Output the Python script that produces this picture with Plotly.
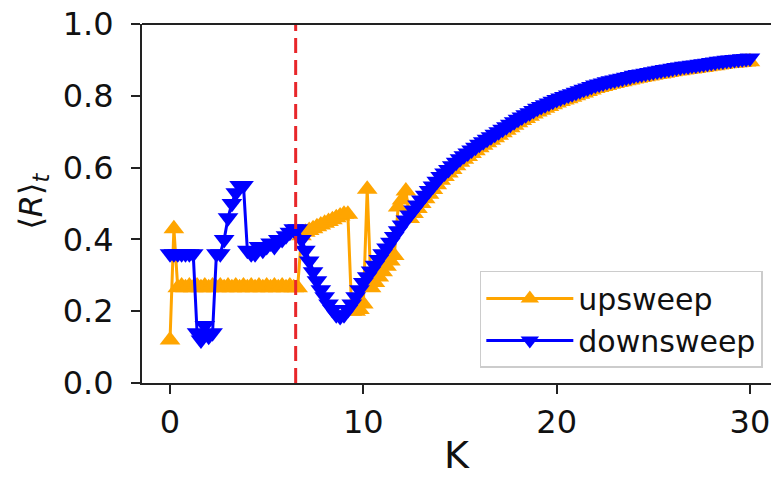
import numpy as np
import plotly.graph_objects as go

# Coupling strength grid (step 0.2 from 0 to 30)
K = np.round(np.linspace(0, 30, 151), 1)

# Time-averaged order parameter, sweeping K upwards
upsweep = [
    0.12, 0.43, 0.265, 0.27, 0.265, 0.27, 0.265, 0.27, 0.265, 0.27,       # 0.0 - 1.8
    0.265, 0.27, 0.265, 0.27, 0.265, 0.27, 0.265, 0.27, 0.265, 0.27,      # 2.0 - 3.8
    0.265, 0.27, 0.265, 0.27, 0.265, 0.27, 0.265, 0.27, 0.265, 0.27,      # 4.0 - 5.8
    0.265, 0.27, 0.265, 0.265, 0.41, 0.42, 0.425, 0.43, 0.435, 0.44,      # 6.0 - 7.8
    0.445, 0.45, 0.455, 0.46, 0.465, 0.47, 0.47, 0.20, 0.20, 0.205,       # 8.0 - 9.8
    0.22, 0.54, 0.265, 0.28, 0.295, 0.31, 0.325, 0.34, 0.355, 0.49,       # 10.0 - 11.8
    0.51, 0.535, 0.458, 0.472, 0.486, 0.50, 0.513, 0.526, 0.539, 0.552,   # 12.0 - 13.8
    0.565, 0.575, 0.585, 0.595, 0.605, 0.615, 0.623, 0.631, 0.639, 0.647, # 14.0 - 15.8
    0.655, 0.662, 0.669, 0.676, 0.683, 0.69, 0.697, 0.704, 0.711, 0.718,  # 16.0 - 17.8
    0.725, 0.731, 0.737, 0.743, 0.749, 0.755, 0.76, 0.765, 0.77, 0.775,   # 18.0 - 19.8
    0.78, 0.784, 0.788, 0.792, 0.796, 0.80, 0.804, 0.808, 0.812, 0.816,   # 20.0 - 21.8
    0.82, 0.823, 0.826, 0.829, 0.832, 0.834, 0.837, 0.839, 0.842, 0.844,  # 22.0 - 23.8
    0.847, 0.849, 0.851, 0.853, 0.855, 0.857, 0.859, 0.861, 0.863, 0.865, # 24.0 - 25.8
    0.867, 0.869, 0.87, 0.872, 0.873, 0.875, 0.876, 0.878, 0.879, 0.881,  # 26.0 - 27.8
    0.883, 0.884, 0.886, 0.887, 0.889, 0.89, 0.891, 0.892, 0.893, 0.894,  # 28.0 - 29.8
    0.895,                                                                  # 30.0
]

# Time-averaged order parameter, sweeping K downwards
downsweep = [
    0.36, 0.36, 0.36, 0.36, 0.36, 0.36, 0.36, 0.14, 0.12, 0.16,           # 0.0 - 1.8
    0.13, 0.14, 0.36, 0.36, 0.40, 0.46, 0.50, 0.53, 0.55, 0.55,           # 2.0 - 3.8
    0.37, 0.36, 0.36, 0.38, 0.37, 0.38, 0.39, 0.38, 0.40, 0.40,           # 4.0 - 5.8
    0.41, 0.42, 0.43, 0.43, 0.40, 0.37, 0.34, 0.31, 0.285, 0.26,          # 6.0 - 7.8
    0.24, 0.22, 0.205, 0.19, 0.185, 0.19, 0.205, 0.22, 0.24, 0.26,        # 8.0 - 9.8
    0.28, 0.296, 0.312, 0.328, 0.344, 0.36, 0.376, 0.392, 0.408, 0.424,   # 10.0 - 11.8
    0.44, 0.454, 0.468, 0.482, 0.496, 0.51, 0.523, 0.536, 0.549, 0.562,   # 12.0 - 13.8
    0.575, 0.585, 0.595, 0.605, 0.615, 0.625, 0.633, 0.641, 0.649, 0.657, # 14.0 - 15.8
    0.665, 0.672, 0.679, 0.686, 0.693, 0.70, 0.707, 0.714, 0.721, 0.728,  # 16.0 - 17.8
    0.735, 0.741, 0.747, 0.753, 0.759, 0.765, 0.77, 0.775, 0.78, 0.785,   # 18.0 - 19.8
    0.79, 0.794, 0.798, 0.802, 0.806, 0.81, 0.814, 0.818, 0.822, 0.826,   # 20.0 - 21.8
    0.83, 0.833, 0.836, 0.839, 0.842, 0.844, 0.847, 0.849, 0.852, 0.854,  # 22.0 - 23.8
    0.857, 0.859, 0.861, 0.863, 0.865, 0.867, 0.869, 0.871, 0.873, 0.875, # 24.0 - 25.8
    0.877, 0.879, 0.88, 0.882, 0.883, 0.885, 0.886, 0.888, 0.889, 0.891,  # 26.0 - 27.8
    0.893, 0.894, 0.896, 0.897, 0.899, 0.90, 0.901, 0.902, 0.903, 0.904,  # 28.0 - 29.8
    0.905,                                                                  # 30.0
]

assert len(upsweep) == len(K) == len(downsweep)

# Critical coupling marker
K_critical = 6.5

x_ticks = [0, 10, 20, 30]
y_ticks = [0.0, 0.2, 0.4, 0.6, 0.8, 1.0]
y_tick_text = ["0.0", "0.2", "0.4", "0.6", "0.8", "1.0"]

FONT = "DejaVu Sans"
INK = "#111111"
SPINE = "#222222"

fig = go.Figure()
fig.add_trace(go.Scatter(
    x=K, y=upsweep, name="upsweep", mode="lines+markers",
    line=dict(color="orange", width=3),
    marker=dict(symbol="triangle-up", size=18, color="orange"),
))
fig.add_trace(go.Scatter(
    x=K, y=downsweep, name="downsweep", mode="lines+markers",
    line=dict(color="blue", width=3),
    marker=dict(symbol="triangle-down", size=18, color="blue"),
))

# vertical dashed line at the critical coupling
fig.add_shape(type="line", x0=K_critical, x1=K_critical, xref="x",
              y0=0, y1=1, yref="paper",
              line=dict(color="#e8262a", width=3, dash="15px,7px"), layer="above")
# top spine
fig.add_shape(type="line", x0=0, x1=1, xref="paper", y0=1, y1=1, yref="paper",
              line=dict(color=SPINE, width=2), layer="above")

# y-axis label
fig.add_annotation(
    text="⟨<i>R</i>⟩<sub><i>t</i></sub>", textangle=-90,
    xref="paper", yref="paper", x=-0.1733, y=0.508,
    xanchor="center", yanchor="middle", showarrow=False,
    font=dict(family=FONT, size=32, color=INK),
)

fig.update_layout(
    width=771, height=477,
    margin=dict(l=142, r=0, t=24, b=94),
    paper_bgcolor="white", plot_bgcolor="white",
    font=dict(family=FONT, size=32, color=INK),
    showlegend=True,
    legend=dict(
        x=0.987, y=0.042, xanchor="right", yanchor="bottom",
        bgcolor="white", bordercolor="#cccccc", borderwidth=1.5,
        font=dict(size=30, family=FONT, color=INK),
        itemwidth=87, tracegroupgap=0,
    ),
    xaxis=dict(
        range=[-1.45, 31.09], tickmode="array", tickvals=x_ticks,
        showgrid=False, zeroline=False,
        showline=True, linecolor=SPINE, linewidth=2,
        ticks="outside", ticklen=9, tickwidth=2, tickcolor=SPINE,
        tickfont=dict(size=32), ticklabelstandoff=1,
        title=dict(text="K", font=dict(size=38), standoff=10),
    ),
    yaxis=dict(
        range=[0, 1], tickmode="array", tickvals=y_ticks, ticktext=y_tick_text,
        showgrid=False, zeroline=False,
        showline=True, linecolor=SPINE, linewidth=2,
        ticks="outside", ticklen=9, tickwidth=2, tickcolor=SPINE,
        tickfont=dict(size=32), ticklabelstandoff=11,
    ),
)

fig.write_html("out.html")
